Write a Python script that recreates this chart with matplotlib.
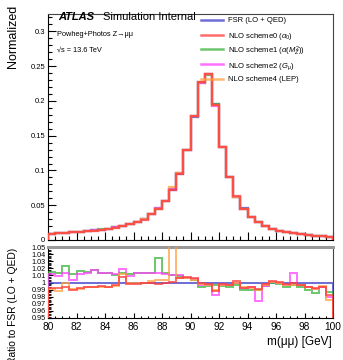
import numpy as np
import matplotlib.pyplot as plt
from matplotlib.ticker import MultipleLocator, FixedLocator

plt.rcParams['font.family'] = ['Liberation Sans', 'DejaVu Sans']
plt.rcParams['mathtext.fontset'] = 'custom'
plt.rcParams['mathtext.rm'] = 'Liberation Sans'
plt.rcParams['mathtext.it'] = 'Liberation Sans:italic'

# m(mumu) binning, 0.5 GeV bins from 80 to 100
edges = np.arange(80.0, 100.01, 0.5)

# FSR (LO + QED), normalized
fsr = [0.0092, 0.0097, 0.0103, 0.0110, 0.0118, 0.0127, 0.0137, 0.0149, 0.0163, 0.0180,
       0.0200, 0.0228, 0.0258, 0.0295, 0.0370, 0.0450, 0.0560, 0.0720, 0.0950, 0.1290,
       0.1770, 0.2270, 0.2390, 0.1960, 0.1340, 0.0910, 0.0625, 0.0455, 0.0330, 0.0260,
       0.0200, 0.0160, 0.0134, 0.0118, 0.0098, 0.0086, 0.0073, 0.0063, 0.0055, 0.0050]

# ratios to FSR (LO + QED)
ratio_s0 = [0.992, 0.992, 0.993, 0.990, 0.992, 0.993, 0.994, 0.995, 0.994, 0.996,
            1.008, 0.998, 0.998, 0.999, 0.999, 0.998, 0.999, 1.001, 1.006, 1.008,
            1.006, 1.000, 0.998, 0.988, 0.998, 0.997, 1.002, 0.992, 0.994, 0.991,
            0.998, 1.002, 1.001, 0.998, 0.999, 0.997, 0.993, 0.992, 0.994, 0.982]
ratio_s1 = [1.015, 1.014, 1.023, 1.012, 1.016, 1.015, 1.017, 1.014, 1.014, 1.010,
            1.014, 1.012, 1.013, 1.014, 1.014, 1.034, 1.013, 1.011, 1.009, 1.006,
            1.004, 0.993, 0.995, 0.996, 0.995, 0.994, 0.997, 0.989, 0.990, 0.990,
            0.995, 0.999, 0.998, 0.994, 0.996, 0.994, 0.990, 0.985, 0.993, 0.986]
ratio_s2 = [1.012, 1.009, 1.013, 1.004, 1.012, 1.013, 1.018, 1.013, 1.013, 1.012,
            1.019, 1.009, 1.014, 1.014, 1.013, 1.013, 1.012, 1.010, 1.010, 1.007,
            1.005, 0.997, 0.997, 0.983, 0.997, 0.996, 1.000, 0.992, 0.993, 0.974,
            0.995, 1.001, 0.999, 0.997, 1.014, 0.996, 0.993, 0.991, 0.994, 0.979]
ratio_s4 = [0.991, 0.988, 1.000, 0.991, 0.991, 0.993, 0.994, 0.994, 0.993, 0.995,
            1.012, 0.999, 0.999, 1.000, 1.002, 1.003, 1.004, 1.065, 1.007, 1.006,
            1.004, 0.998, 0.997, 0.990, 0.997, 0.996, 1.000, 0.993, 0.992, 0.989,
            0.996, 1.001, 1.000, 0.997, 0.997, 0.996, 0.994, 0.991, 0.995, 0.975]

labels = ['FSR (LO + QED)', r'NLO scheme0 ($\alpha_0$)', r'NLO scheme1 ($\alpha(M_Z^2)$)',
          r'NLO scheme2 ($G_\mu$)', 'NLO scheme4 (LEP)']
colors = ['#3c3cc8', '#ff3b3b', '#3cb33c', '#ff40ff', '#ffa040']
ratios = [np.ones(len(fsr)), ratio_s0, ratio_s1, ratio_s2, ratio_s4]
zorders = [2, 6, 3, 4, 5]

W, H = 343, 360
fig = plt.figure(figsize=(W / 100, H / 100), dpi=100)


def box(x0, y0, x1, y1):
    return [x0 / W, 1 - y1 / H, (x1 - x0) / W, (y1 - y0) / H]


ax = fig.add_axes(box(48, 14, 333, 240))
rax = fig.add_axes(box(48, 247, 333, 318))

fsr = np.array(fsr)
for lab, col, r, z in zip(labels, colors, ratios, zorders):
    ax.stairs(fsr * np.array(r), edges, color=col, lw=1.6, alpha=0.75, zorder=z)
    rax.stairs(np.array(r), edges, color=col, lw=1.4, alpha=0.75, zorder=z)

# top panel
ax.set_xlim(80, 100)
ax.set_ylim(0, 0.325)
ax.xaxis.set_major_locator(MultipleLocator(2))
ax.xaxis.set_minor_locator(MultipleLocator(0.5))
ax.yaxis.set_minor_locator(MultipleLocator(0.01))
ax.set_yticks([0, 0.05, 0.1, 0.15, 0.2, 0.25, 0.3])
ax.set_yticklabels(['0', '0.05', '0.1', '0.15', '0.2', '0.25', '0.3'])
ax.tick_params(axis='both', which='both', direction='in', top=False, right=False,
               labelsize=5.5, pad=2)
ax.tick_params(axis='both', which='major', length=5.8, width=0.8)
ax.tick_params(axis='both', which='minor', length=2.9, width=0.8)
ax.tick_params(axis='x', labelbottom=False)
for s in ['top', 'right']:
    ax.spines[s].set_color('#444444')
    ax.spines[s].set_linewidth(0.8)

# ratio panel
rax.set_xlim(80, 100)
rax.set_ylim(0.95, 1.05)
rax.xaxis.set_major_locator(MultipleLocator(2))
rax.xaxis.set_minor_locator(MultipleLocator(0.5))
yt = [0.95, 0.96, 0.97, 0.98, 0.99, 1.0, 1.01, 1.02, 1.03, 1.04, 1.05]
rax.yaxis.set_major_locator(FixedLocator(yt))
rax.set_yticklabels(['0.95', '0.96', '0.97', '0.98', '0.99', '1', '1.01', '1.02', '1.03', '1.04', '1.05'])
rax.yaxis.set_minor_locator(MultipleLocator(0.002))
rax.tick_params(axis='both', which='both', direction='in', top=False, right=False)
rax.tick_params(axis='x', which='major', length=3.5, width=0.8, labelsize=7.3, pad=3)
rax.tick_params(axis='x', which='minor', length=1.8, width=0.8)
rax.tick_params(axis='y', which='major', length=3.5, width=0.8, labelsize=5.2, pad=1.5)
rax.tick_params(axis='y', which='minor', length=2.0, width=0.6)
rax.spines['top'].set_color('#999999')
rax.spines['top'].set_linewidth(2.2)
rax.spines['right'].set_color('#444444')
rax.spines['right'].set_linewidth(0.8)

# texts
fig.text(58 / W, 1 - 20 / H, 'ATLAS', fontsize=8, fontweight='bold', fontstyle='italic', va='baseline')
fig.text(103 / W, 1 - 20 / H, 'Simulation Internal', fontsize=8, va='baseline')
fig.text(57 / W, 1 - 36 / H, 'Powheg+Photos Z\u2192\u03bc\u03bc', fontsize=5.3, va='baseline')
fig.text(57 / W, 1 - 52 / H, '\u221as = 13.6 TeV', fontsize=5.3, va='baseline')

fig.text(13 / W, 1 - 5 / H, 'Normalized', rotation=90, fontsize=9, ha='center', va='top')
fig.text(13 / W, 1 - 248 / H, 'Ratio to FSR (LO + QED)', rotation=90, fontsize=7.4, ha='center', va='top')
fig.text(332 / W, 1 - 345 / H, 'm(\u03bc\u03bc) [GeV]', fontsize=8.5, ha='right', va='baseline')

# legend, one row every ~14.7 px
for i, (lab, col) in enumerate(zip(labels, colors)):
    yc = 1 - (20 + 14.7 * i) / H
    fig.add_artist(plt.Line2D([201 / W, 223 / W], [yc, yc], color=col, lw=1.8, alpha=0.75,
                              transform=fig.transFigure))
    fig.text(228 / W, yc, lab, fontsize=5.5, va='center_baseline')

fig.savefig('out.png', dpi=100)
